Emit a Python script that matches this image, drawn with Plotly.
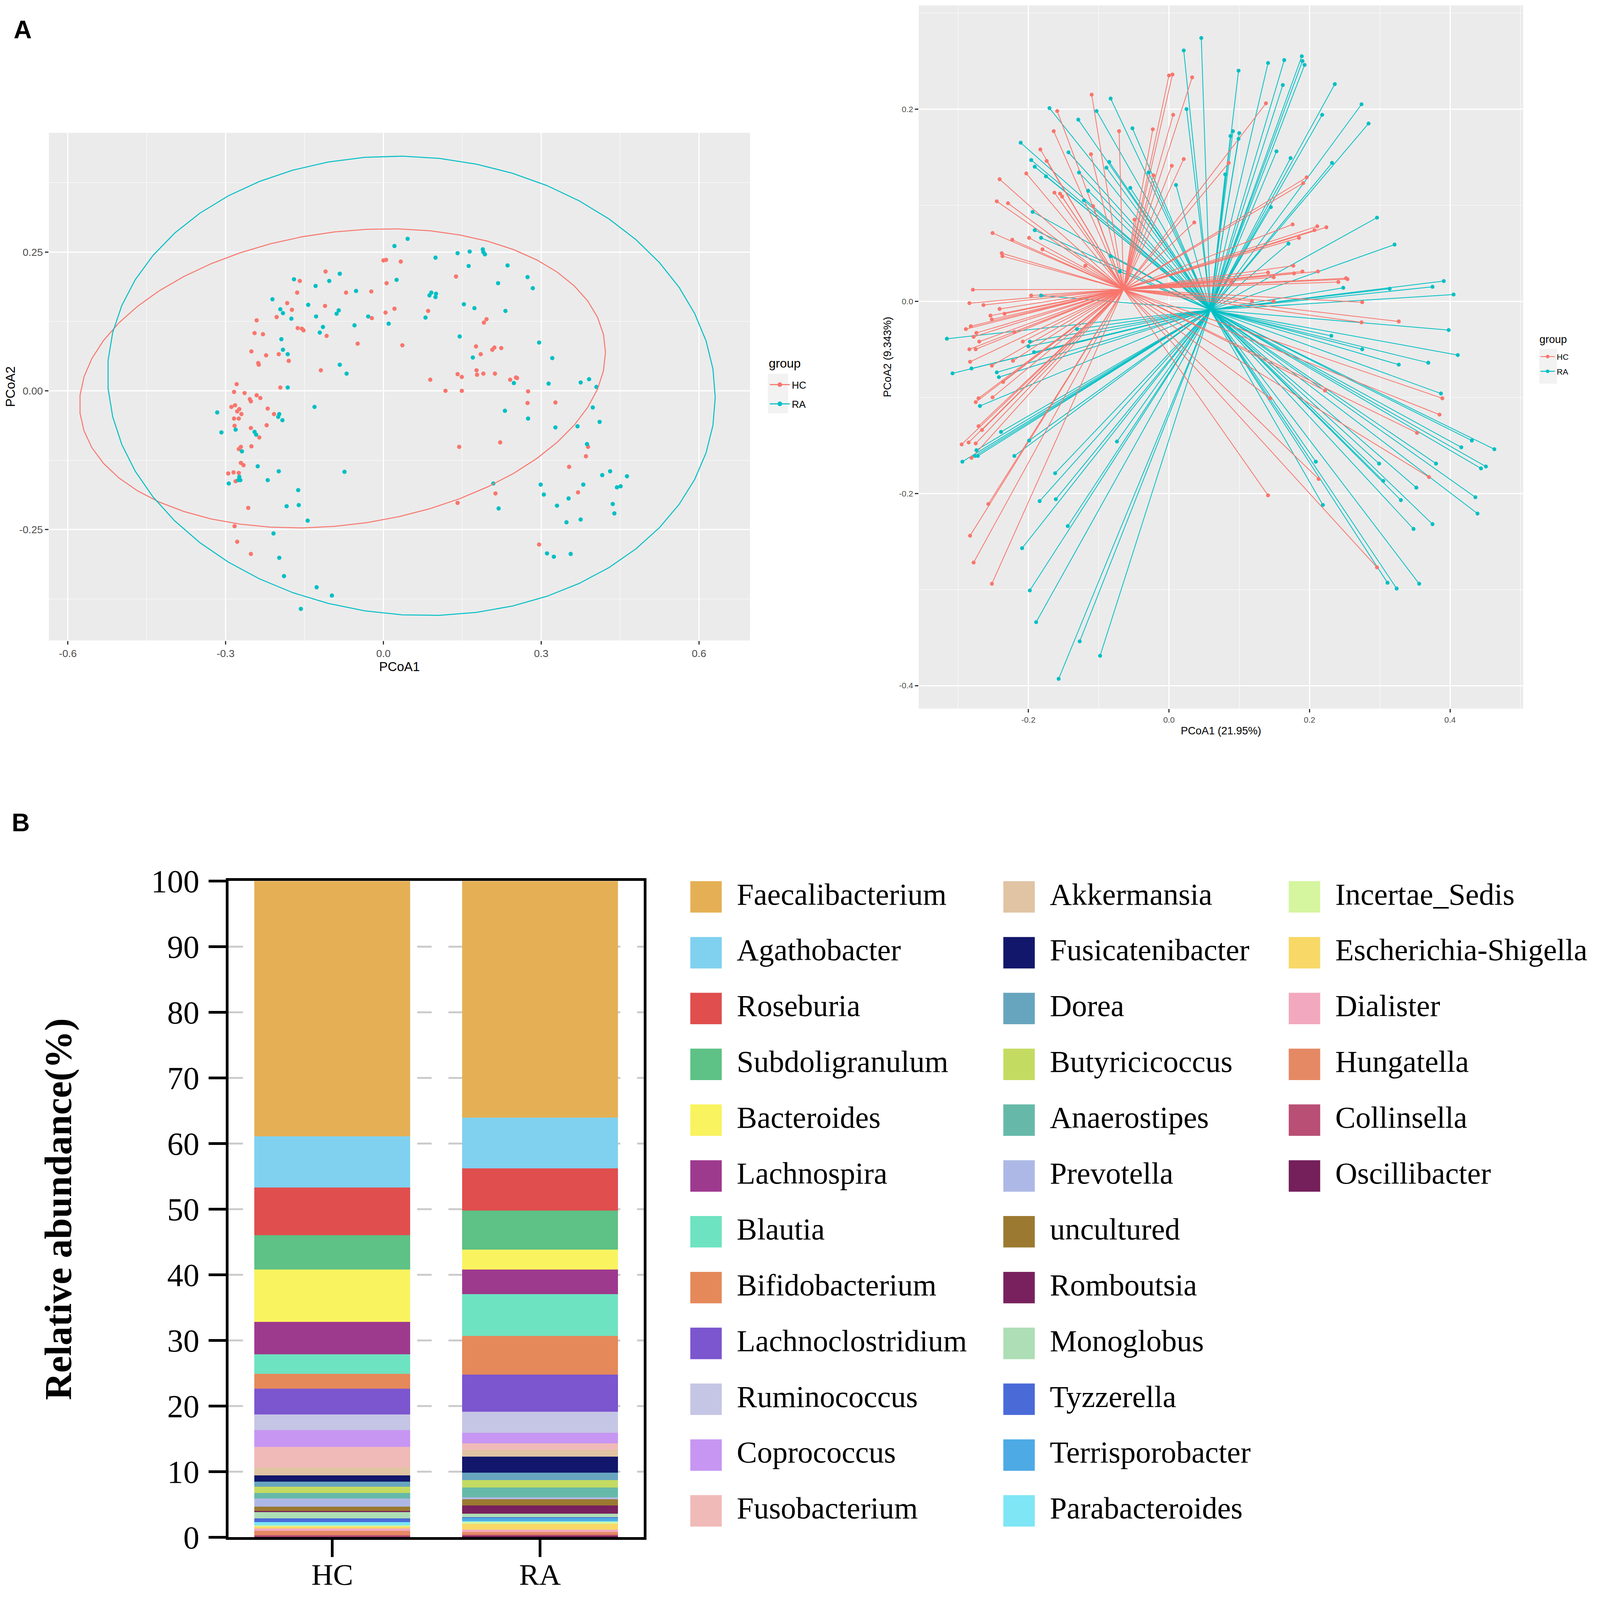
import numpy as np
import plotly.graph_objects as go

# layout is measured on the 4562 x 4326 reference; the page itself is 4096 x 4096
REF_W, REF_H = 4562, 4326
FIG_W, FIG_H = 4080, 4080          # 4096 viewport minus the 8px body margin
K = 0.915                           # pixel sizes (fonts, markers, lines) ref -> page

# ---------------- panel A : PCoA scores (same ordination in both plots) ----------------
GROUPS = ["HC", "RA"]
GROUP_COLORS = ["#F8766D", "#00BFC4"]
PCOA1_VAR = "21.95"
PCOA2_VAR = "9.343"

HC_PC1 = [0.000, 0.005, -0.110, -0.159, -0.164, -0.071, -0.023, 0.006, -0.183, -0.174,
          -0.111, -0.203, -0.241, 0.004, -0.022, -0.163, -0.155, -0.152, -0.245, -0.229,
          -0.108, -0.049, -0.251, -0.223, -0.199, -0.180, -0.238, -0.237, -0.119, -0.279,
          -0.284, -0.264, -0.196, -0.254, -0.252, -0.241, -0.234, -0.289, -0.282, -0.278,
          -0.274, -0.270, -0.284, -0.275, -0.220, -0.208, -0.283, -0.252, -0.236, -0.222,
          -0.271, -0.275, -0.251, -0.271, -0.266, -0.295, -0.285, -0.275, -0.281, -0.257,
          -0.283, -0.278, -0.252, 0.033, 0.138, 0.021, 0.085, 0.191, 0.196, 0.036,
          0.176, 0.207, 0.211, 0.224, 0.185, 0.177, 0.178, 0.190, 0.141, 0.149,
          0.089, 0.212, 0.241, 0.252, 0.254, 0.118, 0.149, 0.275, 0.274, 0.327,
          0.144, 0.222, 0.385, 0.389, 0.353, 0.213, 0.141, 0.370, 0.296]
HC_PC2 = [0.235, 0.236, 0.215, 0.198, 0.177, 0.177, 0.179, 0.194, 0.158, 0.146,
          0.153, 0.133, 0.127, 0.141, 0.131, 0.113, 0.112, 0.109, 0.104, 0.102,
          0.099, 0.085, 0.071, 0.064, 0.066, 0.054, 0.050, 0.047, 0.037, 0.012,
          -0.002, -0.004, 0.006, -0.015, -0.019, -0.008, -0.013, -0.029, -0.026, -0.037,
          -0.033, -0.042, -0.050, -0.050, -0.032, -0.042, -0.063, -0.067, -0.084, -0.062,
          -0.101, -0.105, -0.100, -0.130, -0.134, -0.149, -0.147, -0.148, -0.163, -0.211,
          -0.244, -0.272, -0.294, 0.233, 0.206, 0.148, 0.144, 0.123, 0.129, 0.082,
          0.080, 0.074, 0.078, 0.077, 0.066, 0.037, 0.029, 0.031, 0.030, 0.025,
          0.020, 0.031, 0.020, 0.024, 0.023, 0.000, 0.000, -0.001, -0.022, -0.021,
          -0.101, -0.093, -0.118, -0.101, -0.137, -0.185, -0.202, -0.183, -0.277]

RA_PC1 = [-0.170, -0.083, -0.103, -0.129, -0.211, -0.196, -0.191, -0.175, -0.143, -0.128,
          -0.089, -0.085, -0.115, -0.121, -0.052, -0.029, -0.055, -0.194, -0.191, -0.182,
          -0.083, -0.070, -0.182, -0.131, -0.316, -0.308, -0.281, -0.198, -0.200, -0.192,
          -0.245, -0.242, -0.269, -0.239, -0.199, -0.074, -0.274, -0.272, -0.276, -0.294,
          -0.220, -0.162, -0.184, -0.161, -0.144, -0.209, -0.198, -0.189, -0.127, -0.098,
          -0.157, 0.046, 0.021, 0.099, 0.141, 0.164, 0.189, 0.190, 0.193, 0.162,
          0.236, 0.274, 0.284, 0.218, 0.025, 0.0875, 0.091, 0.100, 0.099, 0.153,
          0.173, 0.232, 0.010, 0.145, 0.296, 0.170, 0.321, 0.248, 0.314, 0.375,
          0.391, 0.405, 0.398, 0.231, 0.275, 0.411, 0.327, 0.369, 0.387, 0.209,
          0.219, 0.299, 0.305, 0.330, 0.352, 0.380, 0.416, 0.431, 0.463, 0.444,
          0.451, 0.436, 0.439, 0.348, 0.375, 0.311, 0.324, 0.356, 0.080]
RA_PC2 = [0.201, 0.211, 0.198, 0.189, 0.165, 0.147, 0.140, 0.130, 0.155, 0.134,
          0.139, 0.145, 0.115, 0.105, 0.180, 0.134, 0.118, 0.093, 0.074, 0.066,
          0.047, 0.031, 0.006, -0.029, -0.039, -0.075, -0.070, -0.042, -0.047, -0.053,
          -0.074, -0.079, -0.109, -0.136, -0.145, -0.146, -0.155, -0.161, -0.161, -0.167,
          -0.161, -0.179, -0.208, -0.206, -0.234, -0.257, -0.301, -0.334, -0.354, -0.369,
          -0.393, 0.274, 0.261, 0.240, 0.248, 0.251, 0.255, 0.250, 0.246, 0.225,
          0.226, 0.205, 0.185, 0.194, 0.200, 0.172, 0.177, 0.175, 0.169, 0.156,
          0.149, 0.144, 0.121, 0.098, 0.087, 0.060, 0.059, 0.014, 0.013, 0.015,
          0.021, 0.007, -0.030, -0.036, -0.050, -0.056, -0.066, -0.064, -0.096, -0.167,
          -0.212, -0.169, -0.187, -0.207, -0.194, -0.169, -0.152, -0.145, -0.154, -0.174,
          -0.172, -0.204, -0.221, -0.237, -0.232, -0.293, -0.299, -0.294, 0.132]

# group centroids of the dispersion (spider) plot
HC_CENTROID = [-0.0646, 0.0124]
RA_CENTROID = [0.0589, -0.0090]

# ---------------- panel B : genus relative abundance (%) ----------------
BAR_GROUPS = ["HC", "RA"]
GENERA = ["Faecalibacterium", "Agathobacter", "Roseburia", "Subdoligranulum", "Bacteroides",
          "Lachnospira", "Blautia", "Bifidobacterium", "Lachnoclostridium", "Ruminococcus",
          "Coprococcus", "Fusobacterium", "Akkermansia", "Fusicatenibacter", "Dorea",
          "Butyricicoccus", "Anaerostipes", "Prevotella", "uncultured", "Romboutsia",
          "Monoglobus", "Tyzzerella", "Terrisporobacter", "Parabacteroides", "Incertae_Sedis",
          "Escherichia-Shigella", "Dialister", "Hungatella", "Collinsella", "Oscillibacter"]
HC_ABUND = [38.92, 7.80, 7.26, 5.22, 7.96, 4.99, 2.97, 2.26, 3.90, 2.42,
            2.53, 3.15, 1.20, 0.94, 0.78, 0.94, 0.88, 1.23, 0.66, 0.19,
            0.92, 0.52, 0.10, 0.47, 0.19, 0.30, 0.32, 0.68, 0.20, 0.10]
RA_ABUND = [36.04, 7.72, 6.47, 5.93, 3.04, 3.75, 6.39, 5.86, 5.69, 3.20,
            1.59, 1.03, 1.03, 2.43, 1.12, 1.12, 1.50, 0.28, 0.99, 1.25,
            0.52, 0.13, 0.47, 0.10, 0.32, 0.90, 0.37, 0.37, 0.19, 0.20]
GENUS_COLORS = ["#E5B055", "#80D1F0", "#E04E4E", "#5EC185", "#F9F35F",
                "#9E3A8E", "#6EE3C1", "#E5895A", "#7B56CF", "#C5C5E5",
                "#C796F2", "#F0BAB8", "#E0C4A3", "#12176B", "#67A5BF",
                "#C4DB62", "#66B9A8", "#AEB8E6", "#9B7930", "#78215E",
                "#AEDEB5", "#4A6AD8", "#4DAAE5", "#7EE6F5", "#D5F59F",
                "#F8D866", "#F2A9C0", "#E58964", "#B94F74", "#751F5B"]

SANS = "Liberation Sans, Arial, sans-serif"
SERIF = "Liberation Serif, Times New Roman, serif"
PANEL_GREY = "#EBEBEB"
KEY_GREY = "#F2F2F2"


def k(v):
    return v * K


def t_ellipse(xs, ys, level=0.95, segments=51, nu=5, maxit=25, tol=0.01):
    # same recipe as ggplot2::stat_ellipse(type = "t"): MASS::cov.trob + F radius
    pts = np.column_stack([xs, ys])
    n, p = pts.shape
    loc = pts.mean(axis=0)
    w = np.ones(n)
    for _ in range(maxit):
        w0 = w
        X = pts - loc
        cov = (X * (w / w.sum())[:, None]).T @ X
        q = np.einsum("ij,jk,ik->i", X, np.linalg.inv(cov), X)
        w = (nu + p) / (nu + q)
        loc = (pts * w[:, None]).sum(axis=0) / w.sum()
        if np.all(np.abs(w - w0) < tol):
            break
    shape = (X * w[:, None]).T @ X / n
    dfd = n - 1
    fq = dfd / 2 * ((1 - level) ** (-2 / dfd) - 1)  # qf(level, 2, dfd)
    radius = np.sqrt(2 * fq)
    ang = np.arange(segments + 1) * 2 * np.pi / segments
    circle = np.column_stack([np.cos(ang), np.sin(ang)])
    ell = loc + radius * circle @ np.linalg.cholesky(shape).T
    return ell[:, 0], ell[:, 1]


def spokes(xs, ys, centre):
    sx, sy = [], []
    for x, y in zip(xs, ys):
        sx += [x, centre[0], None]
        sy += [y, centre[1], None]
    return sx, sy


def px_x(a, b):
    return [a / REF_W, b / REF_W]


def px_y(top, bottom):
    return [1 - bottom / REF_H, 1 - top / REF_H]


fig = go.Figure()

pc1 = [HC_PC1, RA_PC1]
pc2 = [HC_PC2, RA_PC2]
centres = [HC_CENTROID, RA_CENTROID]

# ---- left: scatter + 95% ellipses ----
for col, xs, ys in zip(GROUP_COLORS, pc1, pc2):
    fig.add_trace(go.Scatter(x=xs, y=ys, mode="markers", showlegend=False,
                             marker=dict(color=col, size=k(12), line=dict(width=0)),
                             xaxis="x", yaxis="y"))
for col, xs, ys in zip(GROUP_COLORS, pc1, pc2):
    ex, ey = t_ellipse(xs, ys)
    fig.add_trace(go.Scatter(x=ex, y=ey, mode="lines", showlegend=False,
                             line=dict(color=col, width=k(2.8)), xaxis="x", yaxis="y"))
for g, col in zip(GROUPS, GROUP_COLORS):
    fig.add_trace(go.Scatter(x=[None], y=[None], mode="lines+markers", name=g,
                             legend="legend", legendgroup="l" + g,
                             line=dict(color=col, width=k(3)), marker=dict(color=col, size=k(13)),
                             xaxis="x", yaxis="y"))

# ---- right: spider plot to group centroids ----
for i in [1, 0]:
    sx, sy = spokes(pc1[i], pc2[i], centres[i])
    fig.add_trace(go.Scatter(x=sx, y=sy, mode="lines", showlegend=False,
                             line=dict(color=GROUP_COLORS[i], width=k(2.2)),
                             xaxis="x2", yaxis="y2"))
for i in [0, 1]:
    fig.add_trace(go.Scatter(x=pc1[i], y=pc2[i], mode="markers", showlegend=False,
                             marker=dict(color=GROUP_COLORS[i], size=k(11), line=dict(width=0)),
                             xaxis="x2", yaxis="y2"))
for g, col in zip(GROUPS, GROUP_COLORS):
    fig.add_trace(go.Scatter(x=[None], y=[None], mode="lines+markers", name=g,
                             legend="legend2", legendgroup="r" + g,
                             line=dict(color=col, width=k(2.5)), marker=dict(color=col, size=k(10)),
                             xaxis="x2", yaxis="y2"))

# ---- panel B: stacked bars (first genus on top) ----
for i in reversed(range(len(GENERA))):
    fig.add_trace(go.Bar(x=BAR_GROUPS, y=[HC_ABUND[i], RA_ABUND[i]], name=GENERA[i],
                         marker=dict(color=GENUS_COLORS[i], line=dict(width=0)),
                         width=0.75, showlegend=False, xaxis="x3", yaxis="y3"))

# ---- panel B legend: 3 columns of 12, on an overlay axis in reference-pixel units ----
LEG_ROWS = 12
LEG_COL_X = [2012, 2908, 3725]
LEG_TOP = 2426
LEG_PITCH = 151.5
LEG_TEXT_DX = 88
lx = [LEG_COL_X[i // LEG_ROWS] for i in range(len(GENERA))]
ly = [LEG_TOP + (i % LEG_ROWS) * LEG_PITCH for i in range(len(GENERA))]
fig.add_trace(go.Scatter(x=lx, y=ly, mode="markers", showlegend=False, hoverinfo="skip",
                         marker=dict(symbol="square", size=k(88), color=GENUS_COLORS,
                                     line=dict(width=0)),
                         xaxis="x4", yaxis="y4", cliponaxis=False))
fig.add_trace(go.Scatter(x=[v + LEG_TEXT_DX for v in lx], y=ly, mode="text", text=GENERA,
                         textposition="middle right", showlegend=False, hoverinfo="skip",
                         textfont=dict(family=SERIF, size=78, color="black"),
                         xaxis="x4", yaxis="y4", cliponaxis=False))

gg_axis = dict(ticks="outside", ticklen=k(10), tickwidth=k(3), tickcolor="#333333",
               showline=False, zeroline=False, showgrid=True, gridcolor="white",
               gridwidth=k(3), automargin=False)
gg_minor = dict(showgrid=True, gridcolor="white", gridwidth=k(1.5), ticks="")


def legend_title(x_ref, y_ref, size):
    return dict(text="group", x=x_ref / REF_W, y=1 - y_ref / REF_H, xref="paper", yref="paper",
                showarrow=False, xanchor="left", yanchor="middle",
                font=dict(family=SANS, size=k(size), color="black"))


def key_box(x0, x1, y0, y1):
    # grey backdrop behind the ggplot legend keys
    return dict(type="rect", xref="paper", yref="paper",
                x0=x0 / REF_W, x1=x1 / REF_W, y0=1 - y1 / REF_H, y1=1 - y0 / REF_H,
                fillcolor=KEY_GREY, line=dict(width=0), layer="below")


fig.update_layout(
    width=FIG_W, height=FIG_H, autosize=False,
    margin=dict(l=0, r=0, t=0, b=0, autoexpand=False),
    paper_bgcolor="white", plot_bgcolor="rgba(0,0,0,0)",
    barmode="stack",
    xaxis=dict(domain=px_x(131, 2138), range=[-0.636, 0.697], anchor="y",
               tickvals=[-0.6, -0.3, 0, 0.3, 0.6], ticktext=["-0.6", "-0.3", "0.0", "0.3", "0.6"],
               tickfont=dict(family=SANS, size=k(29), color="#4D4D4D"),
               minor=dict(tickvals=[-0.45, -0.15, 0.15, 0.45], **gg_minor),
               title=dict(text="PCoA1", font=dict(family=SANS, size=k(36), color="black"),
                          standoff=k(8)),
               **gg_axis),
    yaxis=dict(domain=px_y(352, 1730), range=[-0.45, 0.465], anchor="x",
               tickvals=[-0.25, 0, 0.25], ticktext=["-0.25", "0.00", "0.25"],
               tickfont=dict(family=SANS, size=k(29), color="#4D4D4D"),
               minor=dict(tickvals=[-0.375, -0.125, 0.125, 0.375], **gg_minor),
               title=dict(text="PCoA2", font=dict(family=SANS, size=k(36), color="black"),
                          standoff=k(10)),
               **gg_axis),
    xaxis2=dict(domain=px_x(2621, 4351), range=[-0.356, 0.504], anchor="y2",
                tickvals=[-0.2, 0, 0.2, 0.4], ticktext=["-0.2", "0.0", "0.2", "0.4"],
                tickfont=dict(family=SANS, size=k(23), color="#4D4D4D"),
                minor=dict(tickvals=[-0.3, -0.1, 0.1, 0.3, 0.5], **gg_minor),
                title=dict(text=f"PCoA1 ({PCOA1_VAR}%)",
                           font=dict(family=SANS, size=k(30), color="black"), standoff=k(8)),
                **gg_axis),
    yaxis2=dict(domain=px_y(6, 1915), range=[-0.424, 0.308], anchor="x2",
                tickvals=[-0.4, -0.2, 0, 0.2], ticktext=["-0.4", "-0.2", "0.0", "0.2"],
                tickfont=dict(family=SANS, size=k(23), color="#4D4D4D"),
                minor=dict(tickvals=[-0.3, -0.1, 0.1, 0.3], **gg_minor),
                title=dict(text=f"PCoA2 ({PCOA2_VAR}%)",
                           font=dict(family=SANS, size=k(30), color="black"), standoff=k(12)),
                **gg_axis),
    xaxis3=dict(domain=px_x(645, 1834), range=[-0.5, 1.5], anchor="y3", type="category",
                showline=True, linewidth=k(8), linecolor="black", mirror=True,
                ticks="outside", ticklen=k(48), tickwidth=k(8), tickcolor="black",
                tickfont=dict(family=SERIF, size=k(84), color="black"),
                ticklabelstandoff=-22, showgrid=False, zeroline=False, automargin=False),
    yaxis3=dict(domain=px_y(2383, 4164), range=[0, 100], anchor="x3",
                tickvals=list(range(0, 101, 10)),
                showline=True, linewidth=k(8), linecolor="black", mirror=True,
                ticks="outside", ticklen=k(48), tickwidth=k(8), tickcolor="black",
                tickfont=dict(family=SERIF, size=k(90), color="black"),
                ticklabelstandoff=int(round(k(8))),
                showgrid=True, gridcolor="#CCCCCC", gridwidth=k(5),
                griddash=f"{42 * FIG_W / REF_W:.1f}px,{48 * FIG_W / REF_W:.1f}px",
                zeroline=False, automargin=False,
                title=dict(text="Relative abundance(%)",
                           font=dict(family=SERIF, size=k(106), color="black", weight="bold"),
                           standoff=k(190))),
    xaxis4=dict(domain=px_x(1900, REF_W), range=[1900, REF_W], anchor="y4", visible=False,
                fixedrange=True, automargin=False),
    yaxis4=dict(domain=px_y(2330, 4200), range=[4200, 2330], anchor="x4", visible=False,
                fixedrange=True, automargin=False),
    legend=dict(x=2189 / REF_W, y=1 - 1011 / REF_H, xanchor="left", yanchor="top",
                font=dict(family=SANS, size=k(28), color="black"), itemwidth=k(56),
                tracegroupgap=k(14), bgcolor="rgba(0,0,0,0)"),
    legend2=dict(x=4395 / REF_W, y=1 - 938 / REF_H, xanchor="left", yanchor="top",
                 font=dict(family=SANS, size=k(23), color="black"), itemwidth=k(40),
                 tracegroupgap=k(8), bgcolor="rgba(0,0,0,0)"),
    shapes=[
        dict(type="rect", xref="x domain", yref="y domain", x0=0, x1=1, y0=0, y1=1,
             fillcolor=PANEL_GREY, line=dict(width=0), layer="below"),
        dict(type="rect", xref="x2 domain", yref="y2 domain", x0=0, x1=1, y0=0, y1=1,
             fillcolor=PANEL_GREY, line=dict(width=0), layer="below"),
        key_box(2189, 2247, 1006, 1113),
        key_box(4397, 4448, 938, 1033),
    ],
    annotations=[
        dict(text="<b>A</b>", x=56 / REF_W, y=1 - 72 / REF_H, xref="paper", yref="paper",
             showarrow=False, xanchor="center", yanchor="middle",
             font=dict(family=SANS, size=k(70), color="black")),
        dict(text="<b>B</b>", x=50 / REF_W, y=1 - 2224 / REF_H, xref="paper", yref="paper",
             showarrow=False, xanchor="center", yanchor="middle",
             font=dict(family=SANS, size=k(70), color="black")),
        legend_title(2189, 978, 35),
        legend_title(4395, 912, 30),
    ],
)

fig.write_html("out.html")
